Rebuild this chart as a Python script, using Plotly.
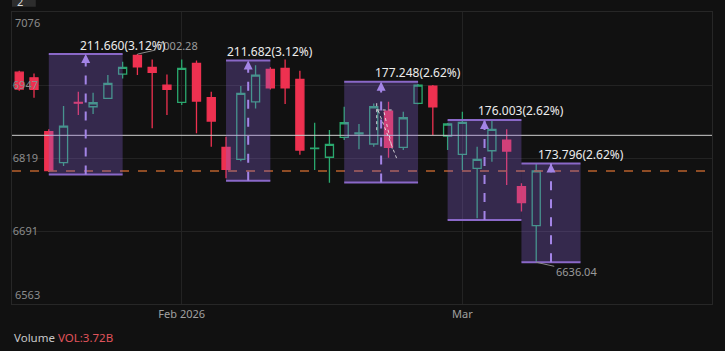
import plotly.graph_objects as go

# ---------------- data ----------------
dates = ["2026-01-15", "2026-01-16", "2026-01-20", "2026-01-21", "2026-01-22", "2026-01-23",
         "2026-01-26", "2026-01-27", "2026-01-28", "2026-01-29", "2026-01-30",
         "2026-02-02", "2026-02-03", "2026-02-04", "2026-02-05", "2026-02-06", "2026-02-09",
         "2026-02-10", "2026-02-11", "2026-02-12", "2026-02-13", "2026-02-17", "2026-02-18",
         "2026-02-19", "2026-02-20", "2026-02-23", "2026-02-24", "2026-02-25", "2026-02-26",
         "2026-02-27", "2026-03-02", "2026-03-03", "2026-03-04", "2026-03-05", "2026-03-06",
         "2026-03-09"]

opens = [6970.6, 6960.6, 6865.7, 6811.3, 6917.5, 6909.7, 6924.4, 6967.1, 7000.0, 6978.9,
         6947.8, 6917.4, 6985.9, 6925.5, 6838.3, 6817.2, 6918.4, 6975.4, 6977.1, 6957.8,
         6836.0, 6820.8, 6855.9, 6862.0, 6844.1, 6902.1, 6838.3, 6915.6, 6946.0, 6858.2,
         6826.0, 6801.4, 6832.3, 6851.1, 6769.1, 6700.6]
highs = [6973.0, 6968.3, 6870.0, 6910.9, 6936.0, 6934.3, 6965.4, 6988.7, 7002.28, 6992.9,
         6966.6, 6992.9, 6991.0, 6936.0, 6857.0, 6946.0, 6982.9, 6979.0, 6992.9, 6972.9,
         6881.5, 6868.7, 6909.7, 6879.3, 6915.6, 6918.4, 6900.9, 6949.5, 6947.8, 6881.0,
         6900.9, 6839.4, 6886.3, 6870.0, 6775.0, 6810.2]
lows = [6938.0, 6925.5, 6795.0, 6805.5, 6895.0, 6896.8, 6924.0, 6959.6, 6965.4, 6871.7,
        6895.1, 6912.6, 6862.9, 6839.4, 6783.9, 6814.0, 6906.8, 6940.0, 6914.4, 6825.0,
        6798.4, 6776.1, 6851.1, 6834.8, 6839.4, 6820.0, 6833.6, 6914.0, 6859.9, 6833.6,
        6798.4, 6713.6, 6813.0, 6772.1, 6725.2, 6636.04]
closes = [6940.8, 6940.2, 6797.2, 6875.7, 6916.0, 6916.7, 6950.8, 6978.9, 6979.9, 6970.1,
          6940.2, 6977.1, 6919.7, 6884.5, 6799.7, 6933.2, 6965.4, 6943.0, 6943.0, 6833.6,
          6837.0, 6843.6, 6881.5, 6863.5, 6909.7, 6838.3, 6890.3, 6947.8, 6909.7, 6879.3,
          6882.2, 6817.2, 6870.0, 6831.8, 6741.0, 6796.7]

y_ticks = [6563, 6691, 6819, 6947, 7076]
x_tick_dates = ["2026-02-02", "2026-03-02"]
x_tick_text = ["Feb 2026", "Mar"]

# price-range measurement boxes (candle index start/end, low price, change, percent)
box_start = [2, 14, 22, 29, 34]
box_end = [7, 17, 27, 34, 38]
box_low = [6790.62, 6779.5, 6776.5, 6710.5, 6636.04]
box_change = [211.660, 211.682, 177.248, 176.003, 173.796]
box_pct = [3.12, 3.12, 2.62, 2.62, 2.62]

current_line = 6859.4
last_price_line = 6796.7

high_mark_idx, high_mark_val = 8, 7002.28
low_mark_idx, low_mark_val = 35, 6636.04

# small hand drawing (index, price) pairs
sketch_lines = [
    (24.2, 6916.0, 24.2, 6866.0),
    (24.2, 6904.0, 25.3, 6904.0),
    (24.3, 6903.0, 25.55, 6819.0),
    (24.7, 6900.0, 25.25, 6836.0),
]

volume_value = "3.72B"

# ---------------- styles ----------------
BG = "#111111"
GRID = "#232323"
GREEN = "#2aa86e"
RED = "#ee3150"
PURPLE_FILL = "rgba(140,100,220,0.30)"
PURPLE_EDGE = "#8a68c8"
PURPLE_DASH = "#a384e6"
TICK_COLOR = "#8c8c8c"

fig = go.Figure()
fig.add_trace(go.Candlestick(
    x=dates, open=opens, high=highs, low=lows, close=closes,
    increasing=dict(line=dict(color=GREEN, width=1.3), fillcolor="rgba(0,0,0,0)"),
    decreasing=dict(line=dict(color=RED, width=1.3), fillcolor=RED),
    whiskerwidth=0, showlegend=False, hoverinfo="skip",
))

shapes = []
annotations = []

# reference lines
shapes.append(dict(type="line", xref="paper", x0=0, x1=1, yref="y",
                   y0=current_line, y1=current_line,
                   line=dict(color="#cfcfcf", width=1), layer="above"))
shapes.append(dict(type="line", xref="paper", x0=0, x1=1, yref="y",
                   y0=last_price_line, y1=last_price_line,
                   line=dict(color="#b8602c", width=1.5, dash="dash"), layer="above"))

# high / low markers
annotations.append(dict(x=high_mark_idx, y=high_mark_val, xref="x", yref="y",
                        text=f"{high_mark_val:.2f}", showarrow=True, arrowhead=0,
                        arrowwidth=1, arrowcolor="#8a8a8a", ax=40, ay=-9,
                        font=dict(color="#9a9a9a", size=11)))
annotations.append(dict(x=low_mark_idx, y=low_mark_val, xref="x", yref="y",
                        text=f"{low_mark_val:.2f}", showarrow=True, arrowhead=0,
                        arrowwidth=1, arrowcolor="#8a8a8a", ax=40, ay=9,
                        font=dict(color="#9a9a9a", size=11)))

# measurement boxes
for s, e, lo, ch, pc in zip(box_start, box_end, box_low, box_change, box_pct):
    hi = lo + ch
    mid = (s + e) / 2
    shapes.append(dict(type="rect", xref="x", yref="y", x0=s, x1=e, y0=lo, y1=hi,
                       fillcolor=PURPLE_FILL, line=dict(width=0), layer="above"))
    for yy in (lo, hi):
        shapes.append(dict(type="line", xref="x", yref="y", x0=s, x1=e, y0=yy, y1=yy,
                           line=dict(color=PURPLE_EDGE, width=2), layer="above"))
    shapes.append(dict(type="line", xref="x", yref="y", x0=mid, x1=mid, y0=lo, y1=hi,
                       line=dict(color=PURPLE_DASH, width=2, dash="dash"), layer="above"))
    annotations.append(dict(x=mid, y=hi, xref="x", yref="y", text="", showarrow=True,
                            arrowhead=2, arrowsize=1.2, arrowwidth=1.5,
                            arrowcolor=PURPLE_DASH, ax=0, ay=9, standoff=0))
    annotations.append(dict(x=e, y=hi, xref="x", yref="y",
                            text=f"{ch:.3f}({pc:.2f}%)", showarrow=False,
                            xanchor="center", yanchor="middle", yshift=9,
                            font=dict(color="#ececec", size=12)))

# hand drawing
for x0, y0, x1, y1 in sketch_lines:
    shapes.append(dict(type="line", xref="x", yref="y", x0=x0, y0=y0, x1=x1, y1=y1,
                       line=dict(color="rgba(235,235,235,0.85)", width=1, dash="dot"),
                       layer="above"))

# edge y labels (plotly hides inside labels at the plot edges)
annotations.append(dict(x=0, y=y_ticks[-1], xref="paper", yref="y", text=str(y_ticks[-1]),
                        showarrow=False, xanchor="left", yanchor="top", xshift=1, yshift=-1,
                        font=dict(color=TICK_COLOR, size=11)))
annotations.append(dict(x=0, y=y_ticks[0], xref="paper", yref="y", text=str(y_ticks[0]),
                        showarrow=False, xanchor="left", yanchor="bottom", xshift=1,
                        font=dict(color=TICK_COLOR, size=11)))

# top-left button
shapes.append(dict(type="rect", xref="paper", yref="paper", x0=0.0, x1=0.034,
                   y0=1.018, y1=1.08, fillcolor="#2d2d2d", line=dict(width=0)))
annotations.append(dict(x=0.012, y=1.035, xref="paper", yref="paper", text="2",
                        showarrow=False, xanchor="center", yanchor="middle",
                        font=dict(color="#dddddd", size=11)))

# volume label
annotations.append(dict(x=0, y=-0.116, xref="paper", yref="paper", xanchor="left",
                        yanchor="middle", showarrow=False,
                        text=f"<span style='color:#c8c8c8'>Volume</span> "
                             f"<span style='color:#e0545c'>VOL:{volume_value}</span>",
                        font=dict(size=11.5)))

fig.update_layout(
    width=725, height=351,
    margin=dict(l=12, r=13, t=12, b=47),
    paper_bgcolor=BG, plot_bgcolor=BG,
    font=dict(family="Noto Sans", color=TICK_COLOR, size=11),
    boxgap=0.22,
    showlegend=False,
    shapes=shapes,
    annotations=annotations,
    xaxis=dict(type="category", range=[-0.49, 46.9],
               tickvals=x_tick_dates, ticktext=x_tick_text,
               showgrid=True, gridcolor=GRID, gridwidth=1,
               showline=True, mirror=True, linecolor="#272727",
               ticks="", rangeslider=dict(visible=False),
               tickfont=dict(color="#a0a0a0", size=11)),
    yaxis=dict(range=[6562.6, 7076.4], tickvals=y_ticks,
               ticktext=[""] + [str(v) for v in y_ticks[1:-1]] + [""],
               ticklabelposition="inside", showgrid=True, gridcolor=GRID,
               showline=True, mirror=True, linecolor="#272727",
               zeroline=False, ticks="",
               tickfont=dict(color=TICK_COLOR, size=11)),
)

fig.write_html("out.html")
